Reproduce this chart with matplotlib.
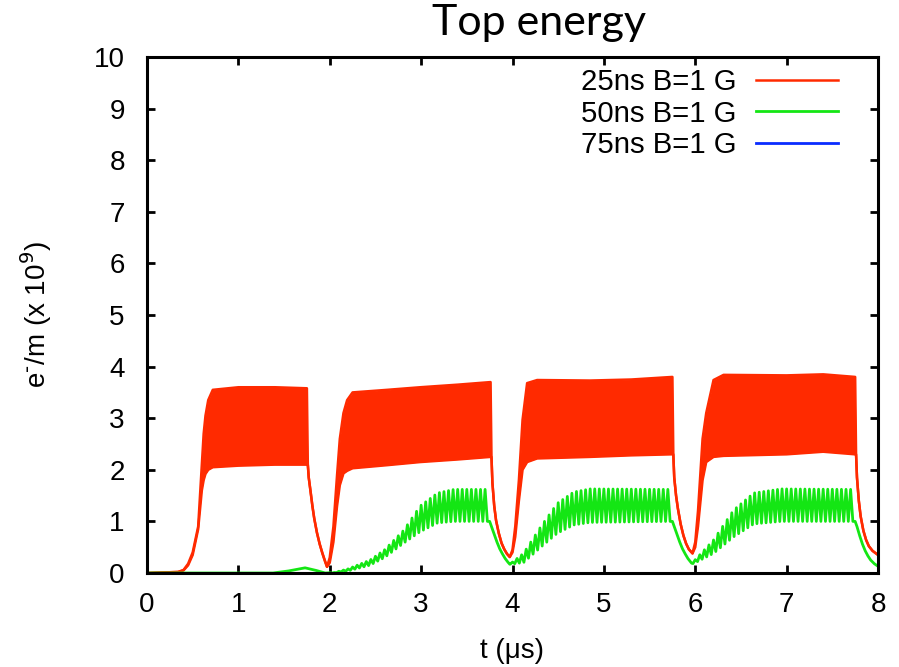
import numpy as np
import matplotlib
matplotlib.use("Agg")
import matplotlib.pyplot as plt

# ---------------- data ----------------
series_labels = ["25ns B=1 G", "50ns B=1 G", "75ns B=1 G"]
x_ticks = [0, 1, 2, 3, 4, 5, 6, 7, 8]
y_ticks = [0, 1, 2, 3, 4, 5, 6, 7, 8, 9, 10]

# 25 ns: envelope of the (very dense) oscillation: time, upper, lower
red_t = [0.00, 0.34, 0.40, 0.45, 0.50, 0.56, 0.60, 0.62, 0.64, 0.67, 0.72, 1.00, 1.40, 1.75,
         1.76, 1.77, 1.79, 1.81, 1.83, 1.86, 1.89, 1.92, 1.95, 1.97,
         2.00, 2.04, 2.08, 2.11, 2.15, 2.19, 2.25, 2.63, 2.99, 3.40, 3.76,
         3.77, 3.78, 3.80, 3.82, 3.85, 3.88, 3.91, 3.94, 3.97,
         4.00, 4.03, 4.07, 4.11, 4.16, 4.27, 4.85, 5.30, 5.75,
         5.76, 5.77, 5.79, 5.81, 5.84, 5.87, 5.90, 5.93, 5.97,
         6.00, 6.03, 6.08, 6.12, 6.20, 6.31, 7.00, 7.40, 7.75,
         7.76, 7.77, 7.79, 7.81, 7.84, 7.87, 7.90, 7.94, 8.00]
red_hi = [0.00, 0.02, 0.06, 0.18, 0.40, 0.90, 2.10, 2.70, 3.05, 3.35, 3.55, 3.60, 3.60, 3.58,
          2.10, 1.85, 1.58, 1.30, 1.06, 0.78, 0.56, 0.38, 0.22, 0.12,
          0.30, 0.90, 1.90, 2.60, 3.10, 3.35, 3.50, 3.55, 3.60, 3.65, 3.70,
          2.25, 1.75, 1.30, 1.02, 0.77, 0.58, 0.46, 0.37, 0.31,
          0.45, 0.90, 1.80, 2.97, 3.68, 3.74, 3.73, 3.75, 3.80,
          2.30, 1.85, 1.50, 1.25, 0.95, 0.73, 0.57, 0.46, 0.38,
          0.60, 1.20, 2.60, 3.10, 3.74, 3.84, 3.83, 3.85, 3.80,
          2.30, 1.85, 1.40, 1.10, 0.82, 0.64, 0.52, 0.43, 0.35]
red_lo = [0.00, 0.02, 0.05, 0.15, 0.35, 0.85, 1.60, 1.80, 1.92, 2.00, 2.05, 2.08, 2.10, 2.10,
          2.10, 1.85, 1.58, 1.30, 1.06, 0.78, 0.56, 0.38, 0.22, 0.12,
          0.20, 0.60, 1.30, 1.70, 1.93, 1.98, 2.03, 2.09, 2.15, 2.20, 2.25,
          2.25, 1.75, 1.30, 1.02, 0.77, 0.58, 0.46, 0.37, 0.31,
          0.40, 0.70, 1.40, 2.00, 2.15, 2.22, 2.25, 2.28, 2.30,
          2.30, 1.85, 1.50, 1.25, 0.95, 0.73, 0.57, 0.46, 0.38,
          0.50, 0.90, 1.80, 2.15, 2.25, 2.27, 2.30, 2.35, 2.30,
          2.30, 1.85, 1.40, 1.10, 0.82, 0.64, 0.52, 0.43, 0.35]

# 50 ns: envelope of the oscillation: time, upper, lower
green_t = [0.00, 1.38, 1.55, 1.73, 1.85, 1.95,
           2.05, 2.20, 2.44, 2.60, 2.81, 2.99, 3.18, 3.36, 3.74,
           3.75, 3.77, 3.80, 3.83, 3.86, 3.89, 3.92, 3.95, 3.97,
           4.12, 4.31, 4.49, 4.67, 4.85, 5.74,
           5.75, 5.77, 5.80, 5.83, 5.86, 5.89, 5.92, 5.96,
           5.98, 6.20, 6.42, 6.64, 6.94, 7.74,
           7.75, 7.77, 7.80, 7.83, 7.86, 7.89, 7.92, 7.96, 8.00]
green_hi = [0.00, 0.00, 0.04, 0.10, 0.05, 0.00,
            0.01, 0.08, 0.25, 0.45, 0.83, 1.30, 1.55, 1.62, 1.62,
            1.00, 0.90, 0.75, 0.60, 0.47, 0.37, 0.28, 0.21, 0.17,
            0.38, 0.90, 1.35, 1.57, 1.63, 1.62,
            1.00, 0.90, 0.75, 0.60, 0.47, 0.37, 0.28, 0.19,
            0.22, 0.64, 1.22, 1.55, 1.63, 1.62,
            1.00, 0.90, 0.72, 0.56, 0.43, 0.33, 0.25, 0.18, 0.13]
green_lo = [0.00, 0.00, 0.04, 0.10, 0.05, 0.00,
            0.00, 0.04, 0.15, 0.30, 0.58, 0.80, 0.97, 1.00, 1.00,
            1.00, 0.90, 0.75, 0.60, 0.47, 0.37, 0.28, 0.21, 0.17,
            0.20, 0.50, 0.77, 0.93, 0.98, 1.00,
            1.00, 0.90, 0.75, 0.60, 0.47, 0.37, 0.28, 0.19,
            0.18, 0.38, 0.70, 0.95, 1.00, 1.00,
            1.00, 0.90, 0.72, 0.56, 0.43, 0.33, 0.25, 0.18, 0.13]
green_bunch_half_period = 0.025  # us (50 ns spacing -> peak/trough every 25 ns)

# 75 ns: not visible above the axis (lies on zero)
blue_t = [0.0, 8.0]
blue_v = [0.0, 0.0]

RED = "#ff2a00"
GREEN = "#14e614"
BLUE = "#0a2cff"

# ---------------- figure ----------------
plt.rcParams["font.family"] = ["Liberation Sans", "DejaVu Sans"]
fig = plt.figure(figsize=(8.99, 6.67), dpi=100)
ax = fig.add_axes([147 / 899, 1 - 573 / 667, (878 - 147) / 899, (573 - 57) / 667])

# red: dense oscillation rendered as the band between its envelopes
ax.fill_between(red_t, red_lo, red_hi, color=RED, linewidth=0, zorder=2)
ax.plot(red_t, red_hi, color=RED, lw=1.8, zorder=2)
l_red, = ax.plot(red_t, red_lo, color=RED, lw=1.8, zorder=2, label=series_labels[0])

# green: zigzag between its envelopes where it oscillates, envelope elsewhere
g_t = np.asarray(green_t)
g_hi = np.asarray(green_hi)
g_lo = np.asarray(green_lo)
ts = np.arange(0.0, 8.0 + 1e-9, green_bunch_half_period)
hi_s = np.interp(ts, g_t, g_hi)
lo_s = np.interp(ts, g_t, g_lo)
osc = (hi_s - lo_s) > 0.005
zig = np.where(np.arange(len(ts)) % 2 == 0, hi_s, lo_s)
flat = np.isclose(g_hi, g_lo)
px = np.concatenate([ts[osc], g_t[flat]])
py = np.concatenate([zig[osc], g_hi[flat]])
order = np.argsort(px, kind="stable")
l_green, = ax.plot(px[order], py[order], color=GREEN, lw=2.0, zorder=3,
                   label=series_labels[1])

l_blue, = ax.plot(blue_t, blue_v, color=BLUE, lw=2.0, zorder=1, label=series_labels[2])

ax.set_xlim(0, 8)
ax.set_ylim(0, 10)
ax.set_xticks(x_ticks)
ax.set_yticks(y_ticks)
ax.tick_params(direction="in", length=6, width=2.0, top=True, right=True,
               labelsize=20)
ax.tick_params(axis="y", pad=16)
ax.tick_params(axis="x", pad=14)
for s in ax.spines.values():
    s.set_linewidth(2.2)
    s.set_zorder(5)

fig.text(512 / 899, 1 - 651 / 667, "t (\u03bcs)", fontsize=20, ha="center", va="center")
fig.text(36 / 899, 1 - 315 / 667, "e$^{\u2010}$/m (x 10$^{9}$)", fontsize=20,
         rotation=90, ha="center", va="center")

fig.text(539 / 899, 1 - 35 / 667, "Top energy", fontsize=31,
         family=["Lato", "DejaVu Sans"], ha="center", va="baseline")

leg = ax.legend(handles=[l_red, l_green, l_blue], loc="upper right",
                bbox_to_anchor=((838 - 147) / 731, (573 - 68) / 516),
                frameon=False, markerfirst=False, fontsize=21.2,
                handlelength=2.8, handletextpad=0.65, labelspacing=0.12,
                borderpad=0, borderaxespad=0)

fig.savefig("out.png", dpi=100)
